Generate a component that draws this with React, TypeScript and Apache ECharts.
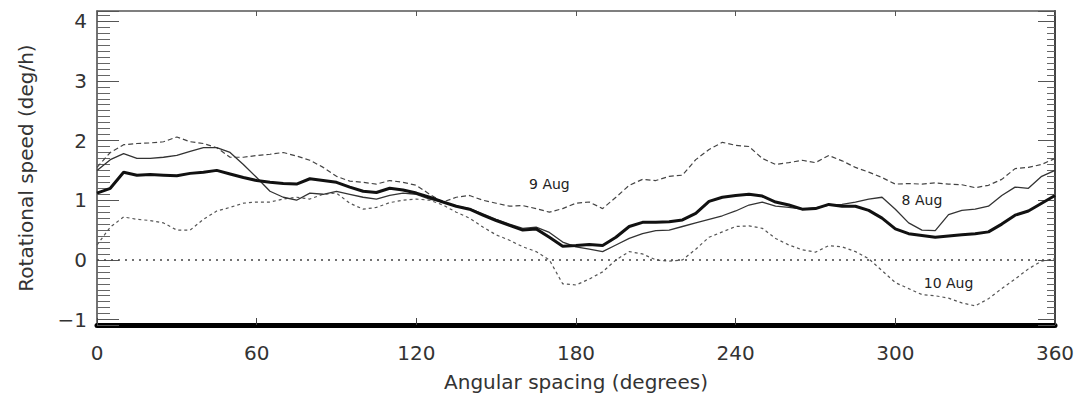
import React, { useEffect, useRef } from "react";
import * as echarts from "echarts";

// Angular spacing (degrees)
const angles = [
  0, 5, 10, 15, 20, 25, 30, 35, 40, 45, 50, 55, 60, 65, 70, 75, 80, 85, 90, 95,
  100, 105, 110, 115, 120, 125, 130, 135, 140, 145, 150, 155, 160, 165, 170, 175,
  180, 185, 190, 195, 200, 205, 210, 215, 220, 225, 230, 235, 240, 245, 250, 255,
  260, 265, 270, 275, 280, 285, 290, 295, 300, 305, 310, 315, 320, 325, 330, 335,
  340, 345, 350, 355, 360,
];

// Mean rotational speed (thick line)
const meanSpeed = [
  1.12, 1.2, 1.47, 1.42, 1.43, 1.42, 1.41, 1.45, 1.47, 1.5, 1.44, 1.38, 1.33, 1.3,
  1.28, 1.27, 1.36, 1.33, 1.3, 1.22, 1.15, 1.13, 1.2, 1.17, 1.12, 1.05, 0.97, 0.9,
  0.85, 0.75, 0.66, 0.58, 0.5, 0.52, 0.38, 0.23, 0.24, 0.26, 0.24, 0.38, 0.56, 0.63,
  0.63, 0.64, 0.67, 0.78, 0.98, 1.05, 1.08, 1.1, 1.07, 0.97, 0.92, 0.85, 0.86, 0.93,
  0.9, 0.9, 0.83, 0.7, 0.52, 0.44, 0.41, 0.38, 0.4, 0.42, 0.44, 0.47, 0.6, 0.75,
  0.82, 0.95, 1.08,
];

// 8 Aug
const aug8 = [
  1.5, 1.68, 1.78, 1.7, 1.7, 1.72, 1.75, 1.82, 1.88, 1.88, 1.8, 1.6, 1.38, 1.15,
  1.05, 1.0, 1.12, 1.1, 1.15, 1.1, 1.05, 1.02, 1.08, 1.12, 1.1, 1.02, 0.97, 0.9,
  0.86, 0.77, 0.68, 0.6, 0.53, 0.55, 0.46, 0.3, 0.22, 0.18, 0.14, 0.25, 0.36, 0.44,
  0.49, 0.5, 0.56, 0.62, 0.68, 0.74, 0.82, 0.92, 0.97, 0.9, 0.88, 0.85, 0.87, 0.92,
  0.93, 0.97, 1.02, 1.05, 0.85, 0.62, 0.5, 0.49, 0.76, 0.83, 0.85, 0.9, 1.08, 1.22,
  1.2, 1.4, 1.5,
];

// 9 Aug
const aug9 = [
  1.55, 1.8, 1.93, 1.95, 1.96, 1.98, 2.06, 1.98, 1.95, 1.88, 1.72, 1.72, 1.75, 1.77,
  1.8, 1.74, 1.67, 1.55, 1.4, 1.32, 1.3, 1.27, 1.33, 1.3, 1.25, 1.1, 0.97, 1.05,
  1.08, 1.0, 0.95, 0.9, 0.91, 0.86, 0.8, 0.86, 0.95, 0.97, 0.86, 1.05, 1.25, 1.35,
  1.33, 1.4, 1.42, 1.68, 1.85, 1.97, 1.92, 1.9, 1.7, 1.6, 1.63, 1.67, 1.63, 1.75,
  1.66, 1.55, 1.47, 1.38, 1.27, 1.28, 1.27, 1.29, 1.27, 1.26, 1.21, 1.25, 1.35, 1.53,
  1.55, 1.6, 1.7,
];

// 10 Aug
const aug10 = [
  0.25, 0.55, 0.72, 0.68, 0.66, 0.62, 0.5, 0.5, 0.68, 0.82, 0.88, 0.95, 0.97, 0.97,
  1.02, 1.05, 1.02, 1.1, 1.12, 0.95, 0.85, 0.88, 0.96, 1.0, 1.02, 1.0, 0.92, 0.8,
  0.7, 0.55, 0.42, 0.33, 0.22, 0.14, 0.0, -0.4, -0.42, -0.32, -0.2, 0.0, 0.14, 0.1,
  0.0, -0.02, 0.0, 0.18, 0.38, 0.47, 0.56, 0.57, 0.53, 0.36, 0.25, 0.17, 0.13, 0.24,
  0.22, 0.14, 0.02, -0.18, -0.38, -0.48, -0.58, -0.6, -0.64, -0.72, -0.77, -0.65,
  -0.48, -0.32, -0.15, -0.02, 0.02,
];

// Curve labels: [text, angle, value]
const curveLabels: [string, number, number][] = [
  ["9 Aug", 170, 1.28],
  ["8 Aug", 310, 1.0],
  ["10 Aug", 320, -0.38],
];

const xTicks = [0, 60, 120, 180, 240, 300, 360];

const FONT = "DejaVu Sans";
const TEXT = "#333";

function pairs(ys: number[]) {
  return angles.map((a, i) => [a, ys[i]]);
}

function labelPoint(name: string) {
  const l = curveLabels.find((c) => c[0] === name)!;
  return {
    symbol: "circle",
    symbolSize: 0,
    silent: true,
    data: [{ coord: [l[1], l[2]], value: l[0] }],
    label: {
      show: true,
      position: "inside",
      formatter: l[0],
      fontFamily: FONT,
      fontSize: 14,
      color: "#222",
    },
  };
}

export default function App() {
  const ref = useRef<HTMLDivElement>(null);

  useEffect(() => {
    if (!ref.current) return;
    const chart = echarts.init(ref.current, undefined, { renderer: "svg" });
    const yMin = -1.09;
    const yMax = 4.17;
    chart.setOption({
      animation: false,
      backgroundColor: "#fff",
      grid: { left: 97, right: 32, top: 11, bottom: 69, outerBoundsMode: "none", containLabel: false },
      xAxis: [
        {
          type: "value",
          min: xTicks[0],
          max: xTicks[xTicks.length - 1],
          interval: 60,
          position: "bottom",
          name: "Angular spacing (degrees)",
          nameLocation: "middle",
          nameGap: 47,
          nameTextStyle: { fontFamily: FONT, fontSize: 20, color: TEXT },
          axisLine: { show: true, onZero: false, lineStyle: { color: "#000", width: 5 } },
          axisTick: { show: true, inside: true, length: 7, lineStyle: { color: "#444", width: 1 } },
          axisLabel: { fontFamily: FONT, fontSize: 20, color: TEXT, margin: 18 },
          splitLine: { show: false },
        },
        {
          type: "value",
          min: xTicks[0],
          max: xTicks[xTicks.length - 1],
          interval: 60,
          position: "top",
          axisLine: { show: true, onZero: false, lineStyle: { color: "#555", width: 1.5 } },
          axisTick: { show: true, inside: true, length: 5, lineStyle: { color: "#555", width: 1 } },
          axisLabel: { show: false },
          splitLine: { show: false },
        },
      ],
      yAxis: [
        {
          type: "value",
          min: yMin,
          max: yMax,
          position: "left",
          name: "Rotational speed (deg/h)",
          nameLocation: "middle",
          nameGap: 61,
          nameTextStyle: { fontFamily: FONT, fontSize: 20, color: TEXT },
          axisLine: { show: true, onZero: false, lineStyle: { color: "#444", width: 1.5 } },
          axisTick: { show: true, inside: true, length: 22, lineStyle: { color: "#555", width: 1 } },
          minorTick: { show: true, splitNumber: 10, length: 13, lineStyle: { color: "#666", width: 1 } },
          axisLabel: {
            fontFamily: FONT,
            fontSize: 20,
            color: TEXT,
            margin: 10,
            formatter: (v: number) =>
              Math.abs(v - Math.round(v)) < 1e-6 ? String(Math.round(v)).replace("-", "\u2212") : "",
          },
          splitLine: { show: false },
          minorSplitLine: { show: false },
        },
        {
          type: "value",
          min: yMin,
          max: yMax,
          position: "right",
          axisLine: { show: true, onZero: false, lineStyle: { color: "#444", width: 2 } },
          axisTick: { show: true, inside: true, length: 17, lineStyle: { color: "#555", width: 1 } },
          minorTick: { show: true, splitNumber: 10, length: 8, lineStyle: { color: "#666", width: 1 } },
          axisLabel: { show: false },
          splitLine: { show: false },
        },
      ],
      series: [
        {
          name: "10 Aug",
          type: "line",
          data: pairs(aug10),
          showSymbol: false,
          symbol: "none",
          lineStyle: { color: "#555", width: 1.2, type: [3, 3] },
          markPoint: labelPoint("10 Aug"),
          markLine: {
            silent: true,
            symbol: "none",
            data: [{ yAxis: 0 }],
            label: { show: false },
            lineStyle: { color: "#444", width: 1.5, type: [2, 5] },
          },
        },
        {
          name: "9 Aug",
          type: "line",
          data: pairs(aug9),
          showSymbol: false,
          symbol: "none",
          lineStyle: { color: "#444", width: 1.2, type: [5, 3] },
          markPoint: labelPoint("9 Aug"),
        },
        {
          name: "8 Aug",
          type: "line",
          data: pairs(aug8),
          showSymbol: false,
          symbol: "none",
          lineStyle: { color: "#333", width: 1.3, type: "solid" },
          markPoint: labelPoint("8 Aug"),
        },
        {
          name: "Mean",
          type: "line",
          data: pairs(meanSpeed),
          showSymbol: false,
          symbol: "none",
          lineStyle: { color: "#111", width: 3 },
        },
      ],
    });
    return () => chart.dispose();
  }, []);

  return (
    <div
      ref={ref}
      style={{ position: "fixed", left: 0, top: 0, width: 1087, height: 394, background: "#fff" }}
    />
  );
}
